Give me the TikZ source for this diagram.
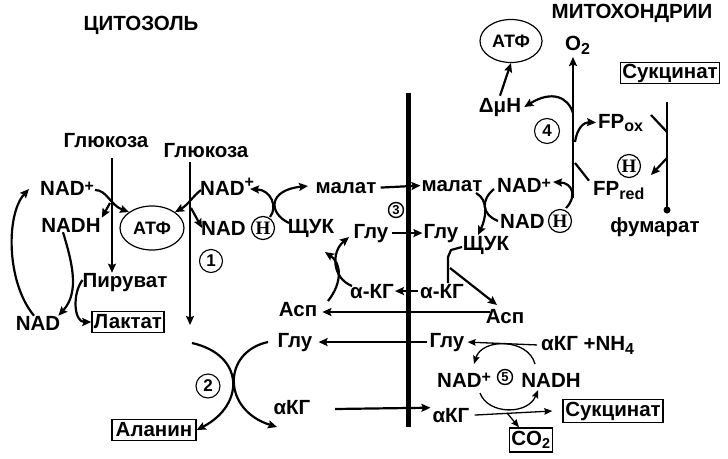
\documentclass[tikz,border=0pt]{standalone}
\usepackage{fontspec}
\setmainfont{Liberation Sans}
\newfontfamily\serifb{Liberation Serif}
\usetikzlibrary{arrows.meta,shapes.geometric}
\newcommand{\lowr}[2]{\raisebox{-#1}{\fontsize{16}{16}\selectfont #2}}
\newcommand{\upr}[2]{\raisebox{#1}{\fontsize{16}{16}\selectfont #2}}
\begin{document}
\begin{tikzpicture}[x=1pt,y=-1pt,
  txt/.style={font=\fontsize{20.5}{22}\selectfont\bfseries, inner sep=0pt},
  boxed/.style={txt, draw, line width=1.4pt, minimum height=21pt, inner xsep=2pt},
  numc/.style={circle, draw, line width=1.1pt, inner sep=0pt, font=\fontsize{17}{17}\selectfont\bfseries},
  smallc/.style={circle, draw, line width=1.4pt, inner sep=0pt, minimum size=15pt, font=\fontsize{13}{13}\selectfont\bfseries},
  hc/.style={circle, draw, line width=1.2pt, inner sep=0pt, minimum size=23pt, font=\fontsize{19}{19}\selectfont\serifb\bfseries},
  ell/.style={ellipse, draw, line width=1.2pt, inner sep=0pt, font=\fontsize{18}{18}\selectfont\bfseries},
  arr/.style={line width=2.2pt, -{Stealth[length=9pt,width=8pt,inset=1.5pt]}},
  ln/.style={line width=2.2pt},
  tarr/.style={line width=1.3pt, -{Stealth[length=8pt,width=6.5pt,inset=1pt]}},
  memb/.style={line width=5pt},
  chain/.style={line width=2.8pt},
]
\useasboundingbox (0,0) rectangle (728,458);

% ---- labels ----
\node[txt, anchor=base] (cyt) at (141,30) {ЦИТОЗОЛЬ};
\node[txt, anchor=base] (mito) at (632,18) {МИТОХОНДРИИ};
\node[txt, anchor=base] (glcA) at (106,147) {Глюкоза};
\node[txt, anchor=base] (glcB) at (206,157) {Глюкоза};
\node[txt, anchor=base west] (nadpL) at (40,195) {NAD\upr{4pt}{+}};
\node[txt, anchor=base] (nadhL) at (71,232) {NADH};
\node[txt, anchor=base] (pyr) at (125,287) {Пируват};
\node[txt, anchor=base] (nadL) at (38,330) {NAD};
\node[boxed, minimum width=70pt] (lac) at (128,322) {Лактат};
\node[ell, minimum width=64pt, minimum height=44pt] (atpL) at (152,228) {АТФ};
\node[numc, minimum size=23pt] (c1) at (211,261) {1};
\node[txt, anchor=base west] (nadpM) at (200,195) {NAD\upr{8pt}{+}};
\node[txt, anchor=base west] (nadhM) at (201,235) {NAD};
\node[hc] (hM) at (263,228) {H};
\node[txt, anchor=base] (shL) at (311,233) {ЩУК};
\node[txt, anchor=base] (malL) at (346,193) {малат};
\node[txt, anchor=base] (malR) at (452,191) {малат};
\node[smallc] (c3) at (396,210) {3};
\node[txt, anchor=base] (gluL) at (371,238) {Глу};
\node[txt, anchor=base] (gluR) at (441,238) {Глу};
\node[txt, anchor=base] (akgL) at (372,298) {α-КГ};
\node[txt, anchor=base] (akgR) at (442,298) {α-КГ};
\node[txt, anchor=base] (aspL) at (298,316) {Асп};
\node[txt, anchor=base] (aspR) at (505,323) {Асп};
\node[txt, anchor=base] (shR) at (486,250) {ЩУК};
\node[txt, anchor=base west] (nadpR) at (497,192) {NAD\upr{4pt}{+}};
\node[txt, anchor=base west] (nadhR) at (500,228) {NAD};
\node[hc] (hR) at (560,221) {H};
\node[txt, anchor=base west] (fpox) at (598,128) {FP\lowr{3pt}{ox}};
\node[txt, anchor=base west] (fpred) at (593,195) {FP\lowr{4pt}{red}};
\node[hc] (hF) at (629,166) {H};
\node[txt, anchor=base] (fum) at (655,232) {фумарат};
\node[boxed, minimum width=96pt] (sucT) at (670,73) {Сукцинат};
\node[numc, minimum size=25pt] (c4) at (547,131) {4};
\node[txt, anchor=base] (dmh) at (500,112) {ΔμH};
\node[ell, minimum width=62pt, minimum height=43pt] (atpT) at (511,41) {АТФ};
\node[txt, anchor=base west] (o2) at (565,50) {O\lowr{4pt}{2}};
\node[txt, anchor=base] (gluBL) at (295,347) {Глу};
\node[txt, anchor=base] (gluBR) at (447,347) {Глу};
\node[txt, anchor=base west] (akgNH) at (541,350) {αКГ +NH\lowr{4pt}{4}};
\node[smallc] (c5) at (505,377) {5};
\node[txt, anchor=base west] (nadpB) at (437,387) {NAD\upr{5pt}{+}};
\node[txt, anchor=base] (nadhB) at (551,387) {NADH};
\node[txt, anchor=base] (akgBL) at (292,414) {αКГ};
\node[txt, anchor=base] (akgBR) at (451,422) {αКГ};
\node[boxed, minimum width=100pt, minimum height=23pt] (sucB) at (613,411) {Сукцинат};
\node[boxed, minimum width=42pt, minimum height=24pt] (co2) at (531,440) {CO\textsubscript{2}};
\node[boxed, minimum width=84pt] (ala) at (154,430) {Аланин};
\node[numc, minimum size=24pt] (c2) at (208,386) {2};

% ---- membrane ----
\coordinate (memT) at (408,93);
\coordinate (memB) at (408,427);
\draw[memb] (memT) -- (memB);

% glycolysis
\coordinate (gA) at (112,158);
\draw[arr] (gA) -- (gA |- pyr.north);
\coordinate (gB) at (190,162);
\coordinate (gBend) at (190,325);
\draw[arr] (gB) -- (gBend);

% NAD+ -> NADH with ATP (left)
\coordinate (kL) at (110,203);
\draw[arr] (95,190) .. controls (107,190) and (110,205) .. (atpL.north west);
\draw[arr] (kL) -- ([xshift=1pt]nadhL.north east);
% NAD+ -> NAD(H) with ATP (glucose branch)
\coordinate (kM) at (191,208);
\draw[arr] (201,190) .. controls (193,196) and (188,205) .. (atpL.north east);
\draw[arr] (kM) -- ([xshift=1pt]nadhM.west);

% lactate
\draw[arr] ([xshift=-8pt]nadhL.south) .. controls (72,262) and (80,292) .. ([xshift=-2pt]nadL.north east);
\draw[arr] ([yshift=2pt]pyr.west) .. controls (72,294) and (74,322) .. (lac.west);
\draw[arr] ([xshift=-4pt]nadL.north) .. controls (6,282) and (6,214) .. (29,189);

% malate / OAA cytosol
\draw[arr] (270,217) .. controls (278,207) and (271,190) .. (250,189);
\draw[arr] (289,223) .. controls (268,213) and (268,190) .. (308,186);

% shuttles across membrane
\draw[arr] ([xshift=4pt]malL.east) -- ([xshift=-1pt]malR.west);
\draw[arr] ([xshift=3pt]gluL.east) -- ([xshift=-1pt]gluR.west);
\draw[arr] ([xshift=-2pt]akgR.west) -- ([xshift=1pt]akgL.east);
\coordinate (aspIn) at (490,312);
\draw[arr, shorten >=5pt] (aspIn) -- (aspL.east |- aspIn);

% mitochondrial malate DH
\draw[arr] (476,193) .. controls (489,200) and (486,218) .. (478,235);
\draw[ln] (494,189) .. controls (481,200) and (481,214) .. (498,221);

% cytosolic aminotransferase
\draw[arr] (328,301) .. controls (343,282) and (341,263) .. (325,252);
\draw[arr] (352,286) .. controls (332,278) and (331,252) .. (349,237);

% mitochondrial aminotransferase
\draw[ln] (462,247) -- (451,250) -- (448,257) -- (448,283);
\draw[arr] (450,268) -- (497,305);

% glutamate / alpha-KG bottom
\draw[arr, line width=2.8pt] ([xshift=-2pt]gluBR.west) -- ([xshift=6pt]gluBL.east);
\coordinate (akgOut) at (335,409);
\draw[arr] (akgOut) -- ([xshift=-2pt]akgBR.north west);
\draw[tarr] ([xshift=-4pt]akgNH.west) -- ([xshift=3pt]gluBR.east);
\coordinate (kS) at (507,413);
\draw[tarr] ([xshift=5pt]akgBR.east) -- ([xshift=-10pt]sucB.west);
\draw[tarr] (kS) -- ([xshift=-12pt]co2.north);

% cycle 5
\draw[tarr] (535,364) .. controls (528,338) and (482,338) .. (474,364);
\draw[tarr] (480,393) .. controls (488,415) and (528,415) .. (538,390);

% alanine aminotransferase
\draw[arr] (192,343) .. controls (245,355) and (245,405) .. (ala.east);
\draw[arr] (268,342) .. controls (222,352) and (222,410) .. (277,427);

% respiratory chain
\coordinate (etcB) at (573,198);
\draw[arr, chain] (etcB) -- (573,57);
\draw[arr] (566,208) .. controls (577,197) and (573,183) .. (553,182);
\draw[arr] (573,113) .. controls (568,97) and (552,90) .. ([xshift=3pt]dmh.east);
\draw[arr] ([yshift=2pt]dmh.north) -- (atpT.south);
\draw[arr] (575,142) .. controls (577,128) and (584,122) .. ([xshift=-2pt]fpox.west);
\draw[ln] ([xshift=-4pt]fpred.north west) -- (575,163);

% succinate dehydrogenase
\coordinate (sdT) at (667,102);
\coordinate (sdB) at (667,210);
\draw[chain] (sdT) -- (sdB);
\fill (sdB) circle (3.5pt);
\draw[ln] (651,115) -- (667,132);
\draw[arr] (667,158) -- (651,175);
\end{tikzpicture}
\end{document}
